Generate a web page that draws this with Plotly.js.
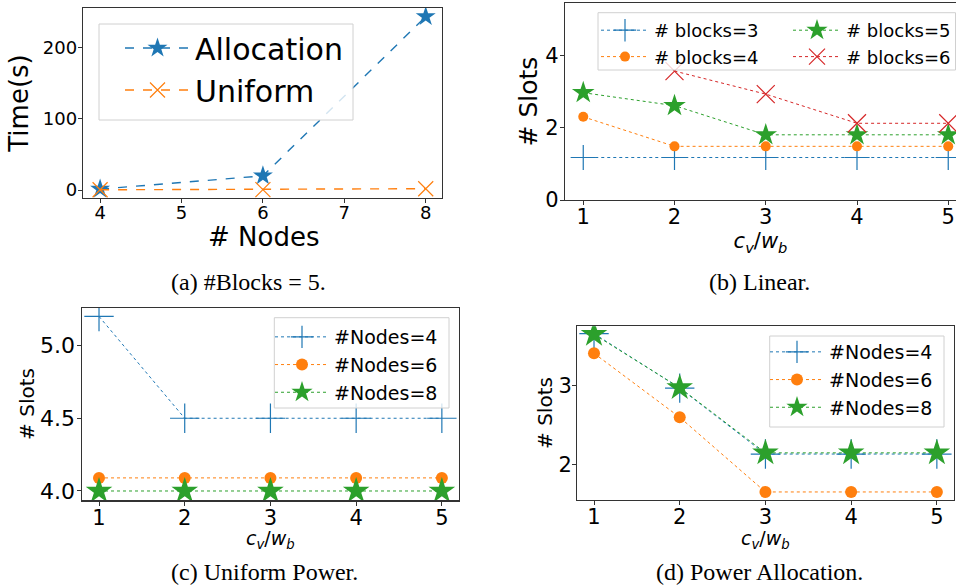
<!DOCTYPE html>
<html>
<head>
<meta charset="utf-8">
<script src="https://cdn.plot.ly/plotly-3.0.1.min.js"></script>
<style>html,body{margin:0;padding:0;background:#fff;overflow:hidden;width:956px;height:588px;}#chart{width:956px;height:588px;overflow:hidden;}</style>
</head>
<body>
<div id="chart"></div>
<script>
// ---------- data ----------
const nodesA = [4, 6, 8];
const timeAllocation = [1.5, 20, 243];
const timeUniform = [0.5, 0.8, 2];

const ratioX = [1, 2, 3, 4, 5];
const linearBlocks3 = [1.18, 1.18, 1.18, 1.18, 1.18];
const linearBlocks4 = [2.31, 1.49, 1.49, 1.49, 1.49];
const linearBlocks5 = [2.98, 2.62, 1.81, 1.81, 1.81];
const linearBlocks6 = [null, 3.58, 2.94, 2.13, 2.13];

const uniformNodes4 = [5.2, 4.5, 4.5, 4.5, 4.5];
const uniformNodes6 = [4.09, 4.09, 4.09, 4.09, 4.09];
const uniformNodes8 = [4.0, 4.0, 4.0, 4.0, 4.0];

const allocNodes4 = [3.66, 2.97, 2.135, 2.135, 2.135];
const allocNodes6 = [3.41, 2.6, 1.655, 1.655, 1.655];
const allocNodes8 = [3.65, 2.975, 2.15, 2.15, 2.15];

const namesA = ['Allocation', 'Uniform'];
const namesB = ['# blocks=3', '# blocks=4', '# blocks=5', '# blocks=6'];
const namesCD = ['#Nodes=4', '#Nodes=6', '#Nodes=8'];
const captions = ['(a) #Blocks = 5.', '(b) Linear.', '(c) Uniform Power.', '(d) Power Allocation.'];
const xTitleA = '# Nodes';
const cvwb = '<i>c<sub>v</sub></i>/<i>w<sub>b</sub></i>';

// ---------- styling ----------
const W = 956, H = 588;
const px = v => v / W;
const py = v => 1 - v / H;
const C = ['#1f77b4', '#ff7f0e', '#2ca02c', '#d62728'];
const SANS = 'DejaVu Sans, sans-serif';
const SERIF = 'Liberation Serif, Times New Roman, serif';
const SPINE = '#333333';

function lineTrace(x, y, name, color, dash, width, marker, xa, ya, legend) {
  return {
    type: 'scatter', mode: 'lines+markers', x: x, y: y, name: name,
    xaxis: xa, yaxis: ya, legend: legend, connectgaps: false,
    line: {color: color, dash: dash, width: width},
    marker: marker, showlegend: true, hoverinfo: 'skip'
  };
}
const star = (c, s) => ({symbol: 'star', size: s, color: c, line: {width: 0}});
const circ = (c, s) => ({symbol: 'circle', size: s, color: c, line: {width: 0}});
const cross = (c, s) => ({symbol: 'cross-thin', size: s, color: c, line: {color: c, width: 1.2}});
const xmark = (c, s) => ({symbol: 'x-thin', size: s, color: c, line: {color: c, width: 1.2}});

const traces = [
  lineTrace(nodesA, timeAllocation, namesA[0], C[0], 'dash', 1.4, star(C[0], 15), 'x', 'y', 'legend'),
  lineTrace(nodesA, timeUniform, namesA[1], C[1], 'dash', 1.4, xmark(C[1], 15), 'x', 'y', 'legend'),

  lineTrace(ratioX, linearBlocks3, namesB[0], C[0], 'dot', 1, cross(C[0], 18), 'x2', 'y2', 'legend2'),
  lineTrace(ratioX, linearBlocks4, namesB[1], C[1], 'dot', 1, circ(C[1], 10), 'x2', 'y2', 'legend2'),
  lineTrace(ratioX, linearBlocks5, namesB[2], C[2], 'dot', 1, star(C[2], 17), 'x2', 'y2', 'legend3'),
  lineTrace(ratioX, linearBlocks6, namesB[3], C[3], 'dot', 1, xmark(C[3], 18), 'x2', 'y2', 'legend3'),

  lineTrace(ratioX, uniformNodes4, namesCD[0], C[0], 'dot', 1, cross(C[0], 21), 'x3', 'y3', 'legend4'),
  lineTrace(ratioX, uniformNodes6, namesCD[1], C[1], 'dot', 1, circ(C[1], 12), 'x3', 'y3', 'legend4'),
  lineTrace(ratioX, uniformNodes8, namesCD[2], C[2], 'dot', 1, star(C[2], 20), 'x3', 'y3', 'legend4'),

  lineTrace(ratioX, allocNodes4, namesCD[0], C[0], 'dot', 1, cross(C[0], 21), 'x4', 'y4', 'legend5'),
  lineTrace(ratioX, allocNodes6, namesCD[1], C[1], 'dot', 1, circ(C[1], 12), 'x4', 'y4', 'legend5'),
  lineTrace(ratioX, allocNodes8, namesCD[2], C[2], 'dot', 1, star(C[2], 20), 'x4', 'y4', 'legend5')
];

function axis(domain, range, anchor, opts) {
  return Object.assign({
    domain: domain, range: range, anchor: anchor, showgrid: false, zeroline: false,
    showline: true, linecolor: SPINE, linewidth: 1.2, mirror: true,
    ticks: 'outside', ticklen: 4, tickwidth: 1, tickcolor: SPINE,
    tickfont: {family: SANS, size: 21, color: '#000'}, automargin: false,
    fixedrange: true
  }, opts);
}

function legendCfg(x, y, size, iw) {
  return {x: x, y: y, xanchor: 'left', yanchor: 'top', bgcolor: 'rgba(0,0,0,0)',
    borderwidth: 0, font: {family: SANS, size: size, color: '#000'}, itemwidth: iw,
    tracegroupgap: 0, itemclick: false, itemdoubleclick: false};
}
function box(x0, y0, x1, y1) {
  return {type: 'rect', xref: 'paper', yref: 'paper', x0: px(x0), x1: px(x1), y0: py(y1), y1: py(y0),
    fillcolor: 'rgba(255,255,255,0.8)', line: {color: '#d0d0d0', width: 1}, layer: 'above'};
}
function label(text, cx, cy, size, family) {
  return {text: text, xref: 'paper', yref: 'paper', x: px(cx), y: py(cy), xanchor: 'center', yanchor: 'middle',
    showarrow: false, font: {family: family, size: size, color: '#000'}};
}

const layout = {
  width: W, height: H, margin: {l: 0, r: 0, t: 0, b: 0, autoexpand: false},
  paper_bgcolor: '#fff', plot_bgcolor: '#fff', showlegend: true,
  xaxis: axis([px(83), px(442)], [3.79, 8.2], 'y', {dtick: 1, tick0: 4, ticklabelstandoff: -6,
    tickfont: {family: SANS, size: 18, color: '#000'}}),
  yaxis: axis([py(198), py(8)], [-11, 255], 'x', {tickvals: [0, 100, 200], ticklabelstandoff: -3,
    tickfont: {family: SANS, size: 18, color: '#000'},
    title: {text: 'Time(s)', font: {family: SANS, size: 26, color: '#000'}, standoff: 6}}),

  xaxis2: axis([px(565), 1], [0.8, 5.085], 'y2', {dtick: 1, tick0: 1, ticklabelstandoff: -6,
    title: {text: cvwb, font: {family: SANS, size: 21, color: '#000'}, standoff: 4}}),
  yaxis2: axis([py(200), py(3)], [0, 5.47], 'x2', {tickvals: [0, 2, 4], mirror: false, ticklabelstandoff: -3,
    title: {text: '# Slots', font: {family: SANS, size: 25, color: '#000'}, standoff: 0}}),

  xaxis3: axis([px(81.7), px(459)], [0.798, 5.2], 'y3', {dtick: 1, tick0: 1, ticklabelstandoff: -6}),
  yaxis3: axis([py(500.3), py(307.7)], [3.936, 5.26], 'x3', {tickvals: [4.0, 4.5, 5.0], tickformat: '.1f', ticklabelstandoff: -3,
    tickfont: {family: SANS, size: 22, color: '#000'},
    title: {text: '# Slots', font: {family: SANS, size: 20, color: '#000'}, standoff: 0}}),

  xaxis4: axis([px(577.3), px(954)], [0.805, 5.2], 'y4', {dtick: 1, tick0: 1, ticklabelstandoff: -6}),
  yaxis4: axis([py(499.7), py(326.3)], [1.557, 3.752], 'x4', {tickvals: [2, 3], ticklabelstandoff: -4,
    title: {text: '# Slots', font: {family: SANS, size: 20, color: '#000'}, standoff: 0}}),

  legend: legendCfg(px(120), py(22), 30, 65),
  legend2: legendCfg(px(596), py(12), 18, 48),
  legend3: legendCfg(px(788), py(12), 18, 48),
  legend4: legendCfg(px(270), py(318), 19, 54),
  legend5: legendCfg(px(765), py(333), 19, 54),

  shapes: [box(99, 24, 353, 120), box(598, 12.7, 955.5, 70), box(274.3, 317.7, 449, 408), box(769.7, 336, 944, 427)],
  annotations: [
    label(xTitleA, 263, 237, 26, SANS),
    label(cvwb, 270, 539, 19, SANS),
    label(cvwb, 765, 539, 19, SANS),
    label(captions[0], 248, 282, 24, SERIF), label(captions[1], 759.7, 282, 24, SERIF),
    label(captions[2], 264, 572, 24, SERIF), label(captions[3], 759.7, 572, 24, SERIF)
  ]
};

Plotly.newPlot('chart', traces, layout, {staticPlot: true, displayModeBar: false});
</script>
</body>
</html>
